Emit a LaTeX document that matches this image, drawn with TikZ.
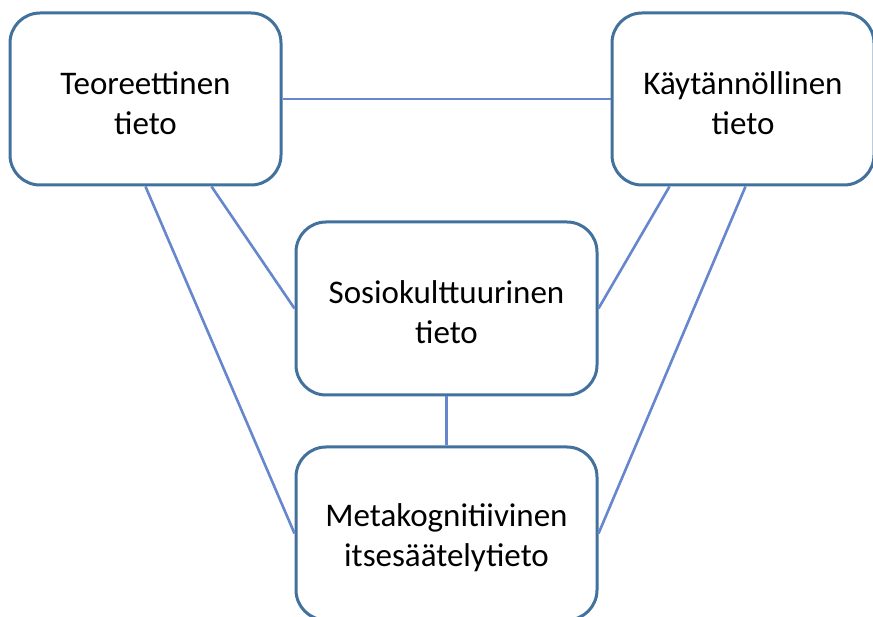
\documentclass[tikz,border=0pt]{standalone}
\usepackage{fontspec}
\setmainfont{Carlito}
\usetikzlibrary{calc}
\definecolor{boxborder}{HTML}{41719C}
\definecolor{linkcol}{HTML}{6686CD}
\tikzset{
  kbox/.style={draw=boxborder, line width=3pt, rounded corners=30pt, fill=white,
    minimum width=#1, inner sep=0pt},
  ktext/.style={align=center, font=\fontsize{33}{40}\selectfont, inner sep=0pt},
  link/.style={draw=linkcol, line width=2.6pt}
}
\begin{document}
\begin{tikzpicture}[x=1pt,y=-1pt]
\useasboundingbox (0,0) rectangle (873,617);
\clip (0,0) rectangle (873,617);
\node[kbox=271pt, minimum height=172pt] (teo) at (145.5,99) {};
\node[kbox=262pt, minimum height=172pt] (kay) at (743,99) {};
\node[kbox=301pt, minimum height=173pt] (sos) at (446.5,308.5) {};
\node[kbox=301pt, minimum height=173pt] (met) at (446.5,533.5) {};
\node[ktext] (teot) at ($(teo.center)+(0,4)$) {Teoreettinen\\tieto};
\node[ktext] (kayt) at ($(kay.center)+(0,4)$) {Käytännöllinen\\tieto};
\node[ktext] (sost) at ($(sos.center)+(0,4)$) {Sosiokulttuurinen\\tieto};
\node[ktext] (mett) at ($(met.center)+(0,4)$) {Metakognitiivinen\\itsesäätelytieto};
\coordinate (t1) at ($(teo.south west)+(137,0)$);
\coordinate (t2) at ($(teo.south west)+(203,0)$);
\coordinate (k1) at ($(kay.south west)+(59,0)$);
\coordinate (k2) at ($(kay.south west)+(135,0)$);
\draw[link] (teo.east) -- (kay.west);
\draw[link] (t2) -- (sos.west);
\draw[link] (t1) -- (met.west);
\draw[link] (k1) -- (sos.east);
\draw[link] (k2) -- (met.east);
\draw[link] (sos.south) -- (met.north);
\end{tikzpicture}
\end{document}
